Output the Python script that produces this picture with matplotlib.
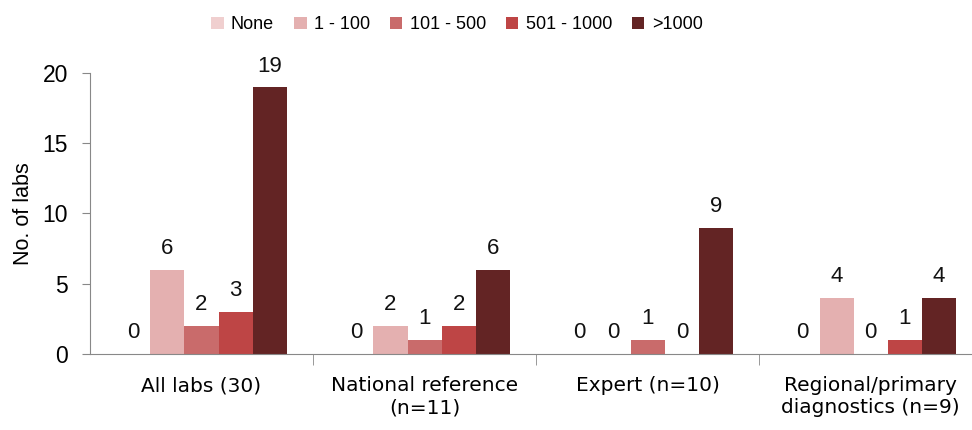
import numpy as np
import matplotlib.pyplot as plt

categories = ["All labs (30)", "National reference\n(n=11)", "Expert (n=10)",
              "Regional/primary\ndiagnostics (n=9)"]
series = ["None", "1 - 100", "101 - 500", "501 - 1000", ">1000"]
values = {
    "None":       [0, 0, 0, 0],
    "1 - 100":    [6, 2, 0, 4],
    "101 - 500":  [2, 1, 1, 0],
    "501 - 1000": [3, 2, 0, 1],
    ">1000":      [19, 6, 9, 4],
}
colors = ["#F0CFCF", "#E4B0B0", "#C96B6B", "#BE4545", "#632424"]

fig = plt.figure(figsize=(9.72, 4.3), dpi=100)
# axes extends slightly past the right edge, like the original
ax = fig.add_axes([0.0926, 0.177, 0.918, 0.653])

x = np.arange(len(categories))
w = 0.153
for i, (name, col) in enumerate(zip(series, colors)):
    pos = x + (i - 2) * w
    vals = values[name]
    ax.bar(pos, vals, width=w, color=col, label=name, edgecolor="none")
    for p, v in zip(pos, vals):
        ax.text(p, v + 0.75, str(v), ha="center", va="bottom",
                fontsize=16, family="Liberation Sans", color="#111111")

ax.set_xlim(-0.5, len(categories) - 0.5)
ax.set_ylim(0, 20)
ax.set_yticks([0, 5, 10, 15, 20])
ax.tick_params(axis="y", labelsize=16.5, length=6, color="#888888", pad=10)
for lbl in ax.get_yticklabels():
    lbl.set_family("Liberation Sans")
ax.set_ylabel("No. of labs", fontsize=15.5, family="Liberation Sans", labelpad=6)

ax.set_xticks(x)
ax.set_xticklabels(categories, fontsize=14.5, family="DejaVu Sans")
ax.tick_params(axis="x", length=0, pad=16)
ax.set_xticks(np.arange(0.5, len(categories) - 0.5, 1), minor=True)
ax.tick_params(axis="x", which="minor", length=8, color="#888888")

for s in ["top", "right"]:
    ax.spines[s].set_visible(False)
for s in ["left", "bottom"]:
    ax.spines[s].set_color("#888888")

fig.legend(loc="upper center", bbox_to_anchor=(0.47, 1.0), ncol=5,
           frameon=False, handlelength=0.7, handleheight=0.7,
           handletextpad=0.4, columnspacing=1.1,
           prop={"family": "Liberation Sans", "size": 13})

fig.savefig("out.png", dpi=100)
